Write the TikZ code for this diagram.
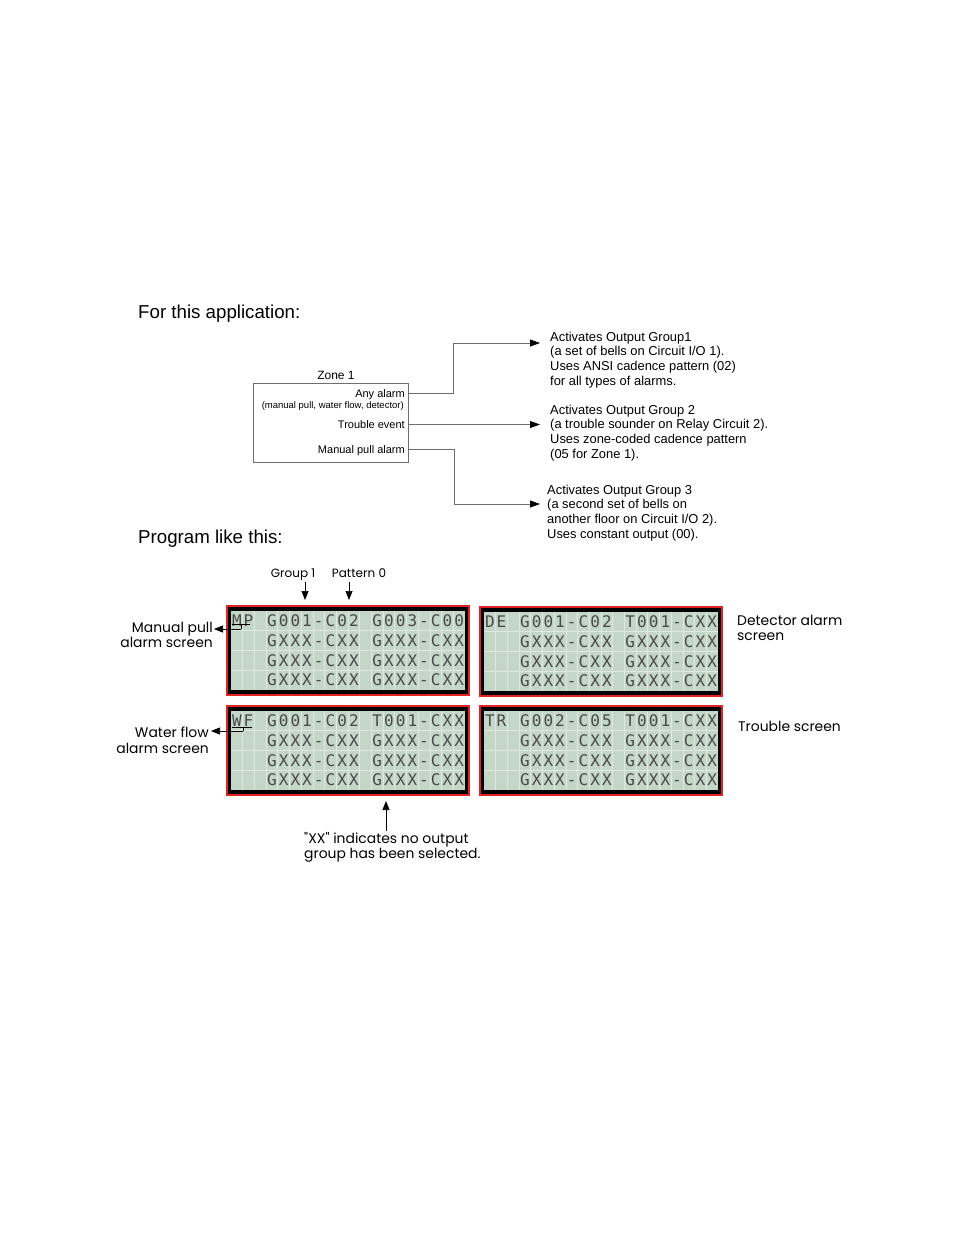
\documentclass[tikz,border=0pt]{standalone}
\usepackage{fontspec}
\setmainfont{Liberation Sans}
\newfontfamily\gothic{Poppins}
\newfontfamily\lcdfont{DejaVu Sans Mono}
\usetikzlibrary{arrows.meta}
\definecolor{lcdgreen}{RGB}{196,214,200}
\definecolor{lcdgrid}{RGB}{222,234,224}
\definecolor{lcdtext}{RGB}{72,74,72}
\definecolor{lcdred}{RGB}{225,35,35}
\definecolor{linegray}{RGB}{110,110,110}
\newcommand\fs[2]{\fontsize{#1}{#2}\selectfont}
\def\lcdrest{{},{},{},G,X,X,X,-,C,X,X,{},G,X,X,X,-,C,X,X}
\newcommand\lcdscreen[4]{%
  \node[lcdframe, anchor=north west] (#1) at (#2,#3) {};
  \fill[lcdgreen] ({#2+4},{#3+5}) rectangle ({#2+238},{#3+84});
  \foreach \k in {1,...,19} \draw[lcdgridline] ({#2+4+11.7*\k},{#3+5}) -- ({#2+4+11.7*\k},{#3+84});
  \foreach \k in {1,2,3} \draw[lcdgridline] ({#2+4},{#3+5+19.75*\k}) -- ({#2+238},{#3+5+19.75*\k});
  \foreach \ch [count=\i from 0] in {#4} \node[lcdchar] (#1-r0-\i) at ({#2+4+11.7*(\i+0.5)},{#3+5+19.75*0.5+5.8}) {\ch};
  \foreach \r in {1,2,3} {\foreach \ch [count=\i from 0] in \lcdrest \node[lcdchar] (#1-r\r-\i) at ({#2+4+11.7*(\i+0.5)},{#3+5+19.75*(\r+0.5)+5.8}) {\ch};}
}
\begin{document}
\begin{tikzpicture}[x=1pt,y=-1pt,
  lcdframe/.style={draw=lcdred, line width=1.3pt, fill=black, minimum width=242pt, minimum height=89pt, inner sep=0pt, outer sep=0pt},
  lcdgridline/.style={draw=lcdgrid, line width=0.8pt},
  lcdchar/.style={font=\lcdfont\fs{16}{16}, text=lcdtext, inner sep=0pt, anchor=base},
  heading/.style={font=\fs{18.7}{22}, inner sep=0pt, anchor=base west},
  zonetxt/.style={font=\fs{11}{13}, inner sep=0pt, anchor=base east},
  grptxt/.style={font=\fs{12.9}{14.7}, inner sep=0pt, anchor=north west, align=left},
  gothtxt/.style={font=\gothic\fs{13.9}{15.5}, inner sep=0pt},
  conn/.style={draw=linegray, line width=0.8pt},
  tip/.style={-{Triangle[length=10pt,width=7pt,color=black]}},
  arr/.style={draw=black, line width=0.7pt, -{Triangle[length=9pt,width=7pt]}}
]
\fill[white] (0,0) rectangle (954,1235);
\useasboundingbox (0,0) rectangle (954,1235);

% ---------- top part ----------
\node[heading] (title1) at (138,318) {For this application:};
\node[draw=linegray, line width=0.8pt, minimum width=155pt, minimum height=79pt, inner sep=0pt, anchor=north west] (zone) at (252.5,383) {};
\node[font=\fs{12}{14}, inner sep=0pt, anchor=base] (zonelbl) at (336,379.5) {Zone 1};
\node[zonetxt] (anyal) at (405,397) {Any alarm};
\node[zonetxt, font=\fs{9.5}{11}] (anysub) at (404,408.5) {(manual pull, water flow, detector)};
\node[zonetxt] (troub) at (405,428) {Trouble event};
\node[zonetxt] (manpull) at (405,453) {Manual pull alarm};

\node[grptxt] (g1) at (550,331.5) {Activates Output Group1\\(a set of bells on Circuit I/O 1).\\Uses ANSI cadence pattern (02)\\for all types of alarms.};
\node[grptxt] (g2) at (550,404.5) {Activates Output Group 2\\(a trouble sounder on Relay Circuit 2).\\Uses zone-coded cadence pattern\\(05 for Zone 1).};
\node[grptxt] (g3) at (547,484.5) {Activates Output Group 3\\(a second set of bells on\\another floor on Circuit I/O 2).\\Uses constant output (00).};

\coordinate (p1) at (zone.east |- 0,393);
\coordinate (p2) at (zone.east |- 0,424.5);
\coordinate (p3) at (zone.east |- 0,449);
\coordinate (t1) at (540,343);
\coordinate (t2) at (540,424.5);
\coordinate (t3) at (540,504);
\draw[conn, tip] (p1) -- (453,393) |- (t1);
\draw[conn, tip] (p2) -- (t2);
\draw[conn, tip] (p3) -- (454,449) |- (t3);

% ---------- bottom part ----------
\node[heading] (title2) at (138,543) {Program like this:};
\node[gothtxt, font=\gothic\fs{12}{14}, anchor=base] (grp1) at (293,577) {Group 1};
\node[gothtxt, font=\gothic\fs{12}{14}, anchor=base] (pat0) at (359,577) {Pattern 0};

\lcdscreen{mp}{227}{606}{M,P,{},G,0,0,1,-,C,0,2,{},G,0,0,3,-,C,0,0}
\lcdscreen{de}{480}{607}{D,E,{},G,0,0,1,-,C,0,2,{},T,0,0,1,-,C,X,X}
\lcdscreen{wf}{227}{706}{W,F,{},G,0,0,1,-,C,0,2,{},T,0,0,1,-,C,X,X}
\lcdscreen{tr}{480}{706}{T,R,{},G,0,0,2,-,C,0,5,{},T,0,0,1,-,C,X,X}

\coordinate (a1) at (305,582);
\coordinate (a1t) at (305,600);
\coordinate (a2) at (349,582);
\coordinate (a2t) at (349,600);
\draw[arr] (a1) -- (a1t);
\draw[arr] (a2) -- (a2t);

% labels
\node[gothtxt, anchor=east, align=right] (mplbl) at (213,635) {Manual pull\\alarm screen};
\node[gothtxt, anchor=east, align=right] (wflbl) at (209,740) {Water flow\\alarm screen};
\node[gothtxt, anchor=west, align=left] (delbl) at (737,628) {Detector alarm\\screen};
\node[gothtxt, anchor=west] (trlbl) at (738,726) {Trouble screen};
\node[gothtxt, anchor=north west, align=left] (xxlbl) at (304,832) {"XX" indicates no output\\group has been selected.};

% MP underline and pointer
\draw[black, line width=0.6pt] (232,624) -- (250,624);
\draw[black, line width=0.6pt] (241,624) -- (241,629);
\coordinate (mpj) at (241,629);
\coordinate (mpt) at (214,629);
\draw[arr] (mpj) -- (mpt);
% WF underline and pointer
\draw[black, line width=0.6pt] (232,727) -- (252,727);
\draw[black, line width=0.6pt] (243,727) -- (243,731);
\coordinate (wfj) at (243,731);
\coordinate (wft) at (211,731);
\draw[arr] (wfj) -- (wft);

% XX pointer
\coordinate (xb) at (386,831);
\coordinate (xt) at (386,801);
\draw[arr] (xb) -- (xt);
\end{tikzpicture}
\end{document}
